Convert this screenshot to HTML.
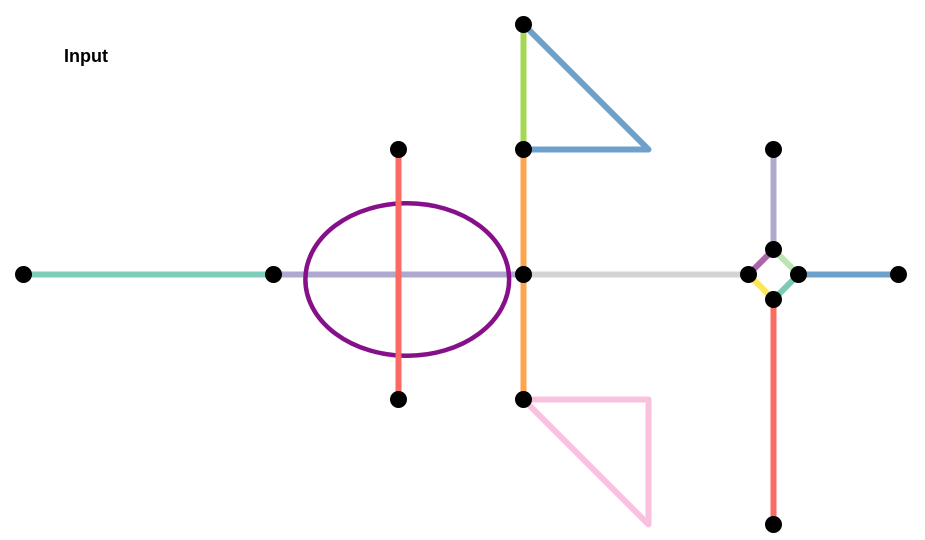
<!DOCTYPE html>
<html><head><meta charset="utf-8"><style>
html,body{margin:0;padding:0;background:#fff;}
svg{display:block;}
</style></head><body>
<svg id="chart" width="925" height="540" xmlns="http://www.w3.org/2000/svg">
<text x="64" y="62" font-family="Liberation Sans, sans-serif" font-weight="bold" font-size="18" fill="#000">Input</text>
<g id="edges"></g><g id="ellipse"></g><g id="nodes"></g>
</svg>
<script>
// node positions in grid units (x,y); 1 unit = 125px
const nodeIds = ["a","b","c","d","e","f","g","h","i","j","k","l","m","n","o"];
const nodeX = [0,2,3,3,4,4,4,4,6,6,5.8,6.2,6,7,6];
const nodeY = [2,2,1,3,0,1,2,3,1,1.8,2,2,2.2,2,4];
// edges: polylines of grid coordinates
const edgeColors = ["#7fcdbb","#afa9d0","#fa6b63","#a6d854","#6ea0cc","#fca44e","#d3d3d3","#f9c1de","#afa9d0","#a865a8","#bde4b5","#fce559","#7dc8b7","#6ea0cc","#fa6b63"];
const edgeXs = [[0,2],[2,4],[3,3],[4,4],[4,5,4],[4,4],[4,5.8],[4,5,5,4],[6,6],[5.8,6],[6,6.2],[5.8,6],[6,6.2],[6.2,7],[6,6]];
const edgeYs = [[2,2],[2,2],[1,3],[0,1],[0,1,1],[1,3],[2,2],[3,3,4,3],[1,1.8],[2,1.8],[1.8,2],[2,2.2],[2.2,2],[2,2],[2.2,4]];
const ellipseCx=[3.07], ellipseCy=[2.04], ellipseRx=[0.815], ellipseRy=[0.61];
const sx=v=>23.5+v*125, sy=v=>24.5+v*125;
const NS="http://www.w3.org/2000/svg";
const eg=document.getElementById("edges");
edgeXs.forEach((xs,i)=>{
  const p=document.createElementNS(NS,"polyline");
  p.setAttribute("points",xs.map((x,j)=>sx(x)+","+sy(edgeYs[i][j])).join(" "));
  p.setAttribute("fill","none");p.setAttribute("stroke",edgeColors[i]);
  p.setAttribute("stroke-width","6");p.setAttribute("stroke-linejoin","round");
  
  
  eg.appendChild(p);
});
const el=document.createElementNS(NS,"ellipse");
el.setAttribute("cx",sx(ellipseCx[0]));el.setAttribute("cy",sy(ellipseCy[0]));
el.setAttribute("rx",ellipseRx[0]*125);el.setAttribute("ry",ellipseRy[0]*125);
el.setAttribute("fill","none");el.setAttribute("stroke","#86108a");el.setAttribute("stroke-width","4.5");


document.getElementById("ellipse").appendChild(el);
const red=eg.children[2].cloneNode();


document.getElementById("ellipse").appendChild(red);
const ng=document.getElementById("nodes");
nodeIds.forEach((id,i)=>{
  const c=document.createElementNS(NS,"circle");
  c.setAttribute("cx",sx(nodeX[i]));c.setAttribute("cy",sy(nodeY[i]));c.setAttribute("r","8.5");c.setAttribute("fill","#000");
  
  
  ng.appendChild(c);
});
</script>
</body></html>
